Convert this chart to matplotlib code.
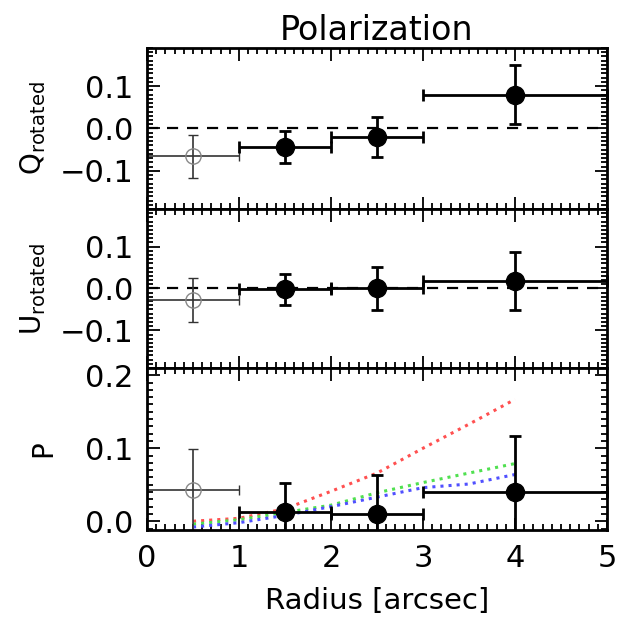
import numpy as np
import matplotlib
matplotlib.use("Agg")
from matplotlib import pyplot as plt
from matplotlib.ticker import MultipleLocator

# radial bins [arcsec]
radius = [0.5, 1.5, 2.5, 4.0]
r_lo = [0.0, 1.0, 2.0, 3.0]
r_hi = [1.0, 2.0, 3.0, 5.0]

q_rot = [-0.066, -0.044, -0.020, 0.080]
q_err = [0.050, 0.038, 0.048, 0.070]
u_rot = [-0.027, -0.002, 0.000, 0.018]
u_err = [0.052, 0.037, 0.052, 0.070]
p_val = [0.043, 0.012, 0.010, 0.040]
p_err = [0.056, 0.041, 0.054, 0.077]

# model curves
model_r = [0.5, 1.0, 1.5, 2.0, 2.5, 3.0, 3.5, 4.0]
model_red = [0.000, 0.004, 0.017, 0.041, 0.066, 0.100, 0.133, 0.167]
model_green = [-0.004, 0.002, 0.012, 0.022, 0.039, 0.053, 0.066, 0.079]
model_blue = [-0.008, -0.002, 0.008, 0.020, 0.033, 0.046, 0.051, 0.064]

plt.rcParams['font.family'] = ['DejaVu Sans']
plt.rcParams['axes.unicode_minus'] = True

fig = plt.figure(figsize=(6.17, 6.20), dpi=100)
left, width = 0.2383, 0.7455
ax_q = fig.add_axes([left, 0.6629, width, 0.2597])
ax_u = fig.add_axes([left, 0.4065, width, 0.2564])
ax_p = fig.add_axes([left, 0.1452, width, 0.2613])

x = np.array(radius)
xerr = [x - np.array(r_lo), np.array(r_hi) - x]


def draw_points(ax, y, yerr):
    # innermost bin drawn as a thin open symbol
    ax.errorbar(x[:1], y[:1], xerr=[xerr[0][:1], xerr[1][:1]], yerr=yerr[:1],
                fmt='o', mfc='none', mec='#888888', ms=11, mew=1.0,
                ecolor='#333333', elinewidth=1.2, capsize=3.5, capthick=1.2)
    e2 = ax.errorbar(x[1:], y[1:], xerr=[xerr[0][1:], xerr[1][1:]], yerr=yerr[1:],
                     fmt='o', color='black', ms=13, ecolor='black',
                     elinewidth=2.0, capsize=4, capthick=2.0)
    # keep the x caps at r=5 visible on the frame
    for art in e2.lines[1][:2]:
        art.set_clip_on(False)


for ax in (ax_q, ax_u, ax_p):
    ax.set_xlim(0, 5)
    ax.xaxis.set_major_locator(MultipleLocator(1))
    ax.xaxis.set_minor_locator(MultipleLocator(0.1))
    ax.yaxis.set_minor_locator(MultipleLocator(0.01))
    ax.tick_params(which='both', direction='in', top=True, right=True,
                   width=1.3, labelsize=22, pad=10)
    ax.tick_params(which='major', length=9)
    ax.tick_params(which='minor', length=4)
    for s in ax.spines.values():
        s.set_linewidth(2.0)

for ax, y, yerr, lab in ((ax_q, q_rot, q_err, r'Q$_{\rm rotated}$'),
                         (ax_u, u_rot, u_err, r'U$_{\rm rotated}$')):
    ax.set_ylim(-0.19, 0.19)
    ax.set_yticks([-0.1, 0.0, 0.1])
    ax.set_yticklabels(['\u22120.1', '0.0', '0.1'])
    ax.axhline(0, color='black', ls=(0, (5, 4)), lw=1.6, zorder=1)
    draw_points(ax, y, yerr)
    ax.set_ylabel(lab, fontsize=20, labelpad=8)
    ax.tick_params(labelbottom=False)

ax_p.set_ylim(-0.012, 0.21)
ax_p.set_yticks([0.0, 0.1, 0.2])
ax_p.set_yticklabels(['0.0', '0.1', '0.2'])
ax_p.plot(model_r, model_red, ls=':', color='#ff5050', lw=2.2)
ax_p.plot(model_r, model_green, ls=':', color='#50e050', lw=2.2)
ax_p.plot(model_r, model_blue, ls=':', color='#5050ff', lw=2.2)
draw_points(ax_p, p_val, p_err)
ax_p.set_ylabel('P', fontsize=20, labelpad=20)
ax_p.set_xlabel('Radius [arcsec]', fontsize=21, labelpad=10)

ax_q.set_title('Polarization', fontsize=24, pad=6)

fig.savefig('out.png', dpi=100)
